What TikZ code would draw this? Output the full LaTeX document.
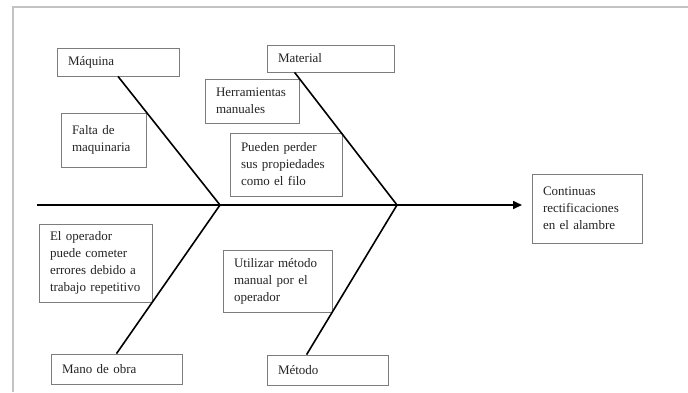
\documentclass[tikz,border=0pt]{standalone}
\usepackage{fontspec}
\setmainfont{Liberation Serif}
\usetikzlibrary{arrows.meta,calc}
\definecolor{boxgray}{RGB}{125,125,125}
\definecolor{framegray}{RGB}{195,195,195}
\definecolor{txt}{RGB}{35,35,35}
\begin{document}
\begin{tikzpicture}[x=1pt,y=-1pt,
  cbox/.style={draw=boxgray, line width=0.8pt, inner xsep=11pt, inner ysep=0pt,
    align=left, text=txt, font=\fontsize{13}{17}\selectfont, anchor=center},
  bone/.style={line width=1.6pt, draw=black},
  spine/.style={line width=1.6pt, draw=black, -{Triangle[length=9pt,width=8pt]}}]
\useasboundingbox (0,0) rectangle (688,392);
\draw[framegray, line width=1.5pt] (13,392) -- (13,7) -- (688,7);

\node[cbox, text width=100pt, minimum height=28pt] (maq) at (118,62) {Máquina};
\node[cbox, text width=105pt, minimum height=27pt] (mat) at (330.5,58.5) {Material};
\node[cbox, text width=72pt, minimum height=44pt] (herr) at (252,101) {Herramientas\\manuales};
\node[cbox, text width=63pt, minimum height=54pt] (falta) at (103.5,140) {Falta de\\maquinaria};
\node[cbox, text width=90pt, minimum height=63pt] (pued) at (286,164.5) {Pueden perder\\sus propiedades\\como el filo};
\node[cbox, text width=88pt, minimum height=69pt] (efecto) at (587,208.5) {Continuas\\rectificaciones\\en el alambre};
\node[cbox, text width=91pt, minimum height=78pt] (oper) at (95.5,263) {El operador\\puede cometer\\errores debido a\\trabajo repetitivo};
\node[cbox, text width=87pt, minimum height=62pt] (util) at (277.5,281) {Utilizar método\\manual por el\\operador};
\node[cbox, text width=109pt, minimum height=30pt] (mano) at (116.5,369) {Mano de obra};
\node[cbox, text width=99pt, minimum height=30pt] (met) at (327.5,370) {Método};

\coordinate (tail) at (37,205);
\coordinate (j1) at (220,205);
\coordinate (j2) at (397,205);
\coordinate (head) at (522,205);

\draw[spine] (tail) -- (head);
\draw[bone] (maq.south) -- (j1);
\draw[bone] ($(mat.south west)+(28,0)$) -- (j2);
\draw[bone] (mano.north) -- (j1);
\draw[bone] ($(met.north west)+(40,0)$) -- (j2);
\end{tikzpicture}
\end{document}
